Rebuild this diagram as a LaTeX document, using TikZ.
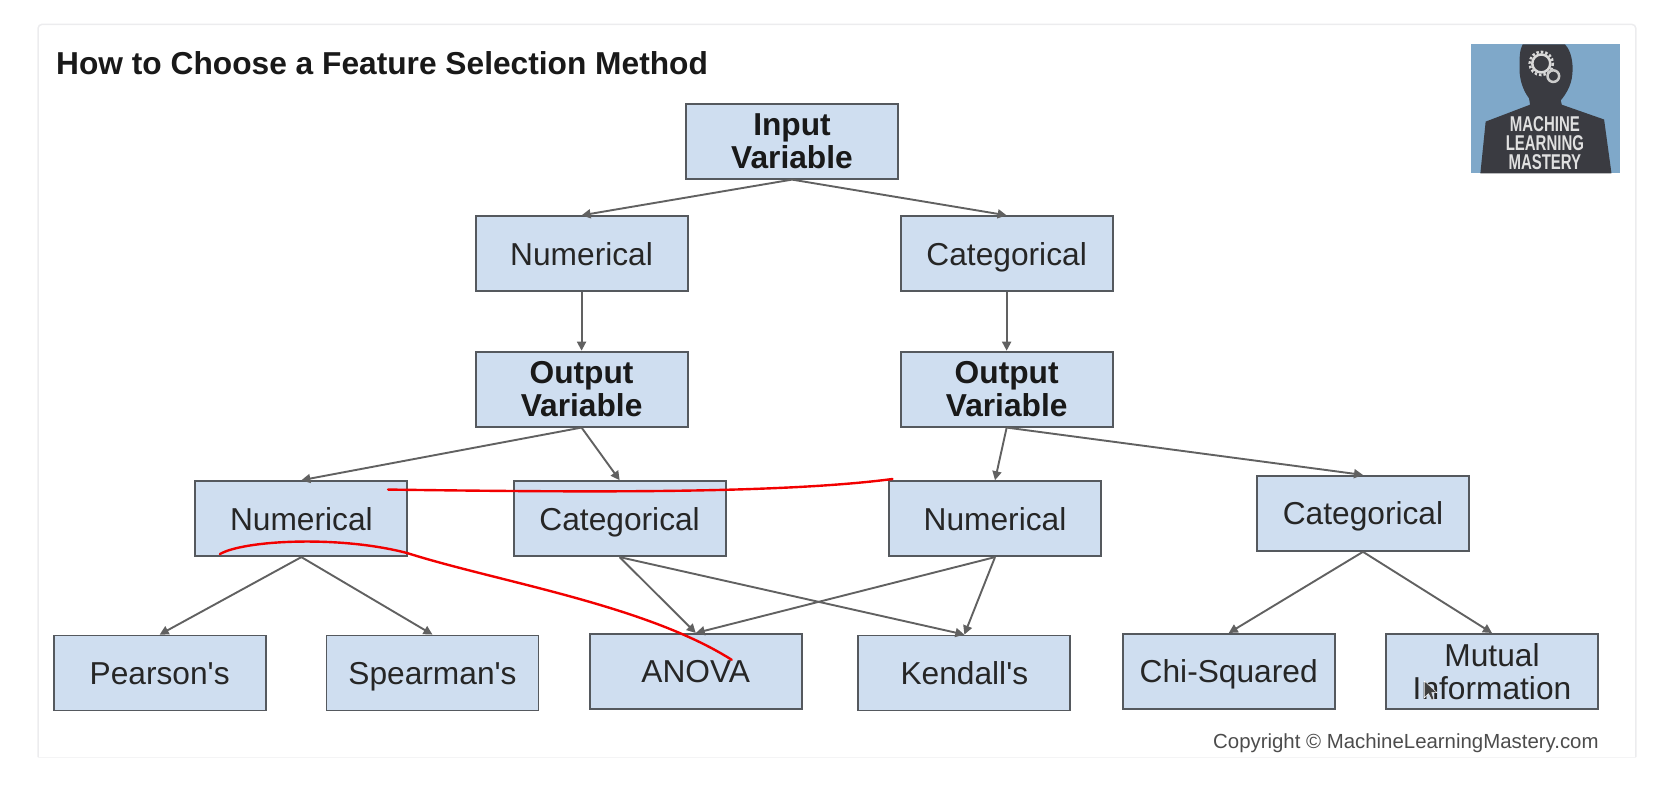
\documentclass[tikz,border=0pt]{standalone}
\usepackage{fontspec}
\setmainfont{Liberation Sans}
\newfontfamily\logofont{Liberation Sans}[FakeStretch=0.7]
\usetikzlibrary{arrows.meta}
\definecolor{boxfill}{HTML}{CFDEF0}
\definecolor{boxline}{HTML}{55595E}
\definecolor{logoblue}{HTML}{7FA8C9}
\definecolor{logodark}{HTML}{3A3B41}
\definecolor{panelline}{HTML}{ECECEE}
\tikzset{
    varbox/.style={draw=boxline, fill=boxfill, line width=1.9pt, minimum width=212pt, minimum height=75pt,
        inner sep=0pt, align=center, text=black!85, font=\fontsize{31.7}{33}\selectfont},
    varname/.style={varbox, text height=23pt, text depth=0pt},
    varhead/.style={varbox, font=\fontsize{31.7}{33}\selectfont\bfseries, text=black!90},
    link/.style={line width=1.9pt, draw=black!62, -{Stealth[length=9pt,width=9pt,inset=0pt]}},
    scribble/.style={draw=red!95!black, line width=2.4pt, line cap=round},
    logotext/.style={text=white!88!black, font=\logofont\fontsize{21.4}{22}\selectfont\bfseries, inner sep=0pt}
}
\begin{document}
\begin{tikzpicture}[x=1.0574pt,y=-1.0574pt]
        \useasboundingbox (0,0) rectangle (1568,748);

        % panel of the page
        \draw[panelline, line width=1.5pt, rounded corners=4pt] (36,716) -- (36,23) -- (1547,23) -- (1547,716);
        \draw[panelline!60, line width=1pt] (36,716) -- (1547,716);

        \node[anchor=west, inner sep=0pt, font=\fontsize{31.7}{34}\selectfont\bfseries, text=black!90] (title) at (53,60) {How to Choose a Feature Selection Method};
        \node[anchor=east, inner sep=0pt, font=\fontsize{20.4}{24}\selectfont, text=black!70] (copyright) at (1512,703) {Copyright © MachineLearningMastery.com};

        \node[varhead] (input) at (749,133.5) {Input\\Variable};
        \node[varname] (num) at (550,240) {Numerical};
        \node[varname] (cat) at (952,240) {Categorical};
        \node[varhead] (outnum) at (550,368) {Output\\Variable};
        \node[varhead] (outcat) at (952,368) {Output\\Variable};
        \node[varname] (numnum) at (285,490.5) {Numerical};
        \node[varname] (numcat) at (586,490.5) {Categorical};
        \node[varname] (catnum) at (941,490.5) {Numerical};
        \node[varname] (catcat) at (1289,485.5) {Categorical};
        \node[varname] (pearson) at (151,636.5) {Pearson\textquotesingle s};
        \node[varname] (spearman) at (409,636.5) {Spearman\textquotesingle s};
        \node[varname] (anova) at (658,635) {ANOVA};
        \node[varname] (kendall) at (912,636.5) {Kendall\textquotesingle s};
        \node[varname] (chi) at (1162,635) {Chi-Squared};
        \node[varbox] (mutual) at (1411,635) {Mutual\\Information};

        \draw[link] (input.south) -- (num.north);
        \draw[link] (input.south) -- (cat.north);
        \draw[link] (num.south) -- (outnum.north);
        \draw[link] (cat.south) -- (outcat.north);
        \draw[link] (outnum.south) -- (numnum.north);
        \draw[link] (outnum.south) -- (numcat.north);
        \draw[link] (outcat.south) -- (catnum.north);
        \draw[link] (outcat.south) -- (catcat.north);
        \draw[link] (numnum.south) -- (pearson.north);
        \draw[link] (numnum.south) -- (spearman.north);
        \draw[link] (numcat.south) -- (anova.north);
        \draw[link] (numcat.south) -- (kendall.north);
        \draw[link] (catnum.south) -- (anova.north);
        \draw[link] (catnum.south) -- (kendall.north);
        \draw[link] (catcat.south) -- (chi.north);
        \draw[link] (catcat.south) -- (mutual.north);

        % red pen marks
        \draw[scribble] (367,463) .. controls (520,465) and (730,468) .. (844,453);
        \draw[scribble] (208,524) .. controls (230,511) and (320,506) .. (385,523)
            .. controls (470,550) and (610,572) .. (692,624);

        % logo
        \fill[logoblue] (1391,42) rectangle (1532,164);
        \fill[logodark] (1440,42) -- (1480,42) .. controls (1486,48) and (1488,60) .. (1487,70)
            .. controls (1486,82) and (1480,90) .. (1476,95)
            -- (1477,99) -- (1517,113) -- (1524,164) -- (1400,164) -- (1405,115) -- (1447,99) -- (1446,93)
            .. controls (1440,85) and (1437,75) .. (1437,65) .. controls (1437,55) and (1437,47) .. (1440,42) -- cycle;
        \draw[white!85!black, line width=2.5pt] (1457.6,60) circle (8.5);
        \draw[white!85!black, line width=2.5pt, dash pattern=on 2.5pt off 2pt] (1457.6,60) circle (11);
        \draw[white!80!black, line width=2.5pt] (1469,72) circle (5.5);
        \node[logotext] (machine) at (1461,117.5) {MACHINE};
        \node[logotext] (learning) at (1461,135.5) {LEARNING};
        \node[logotext] (mastery) at (1461,153.5) {MASTERY};

        % mouse pointer
        \fill[black!75, draw=white, line width=0.4pt] (1347,644) -- (1347,660) -- (1351,656) -- (1354,662) -- (1356,661) -- (1354,655) -- (1359,655) -- cycle;

    \end{tikzpicture}
\end{document}
